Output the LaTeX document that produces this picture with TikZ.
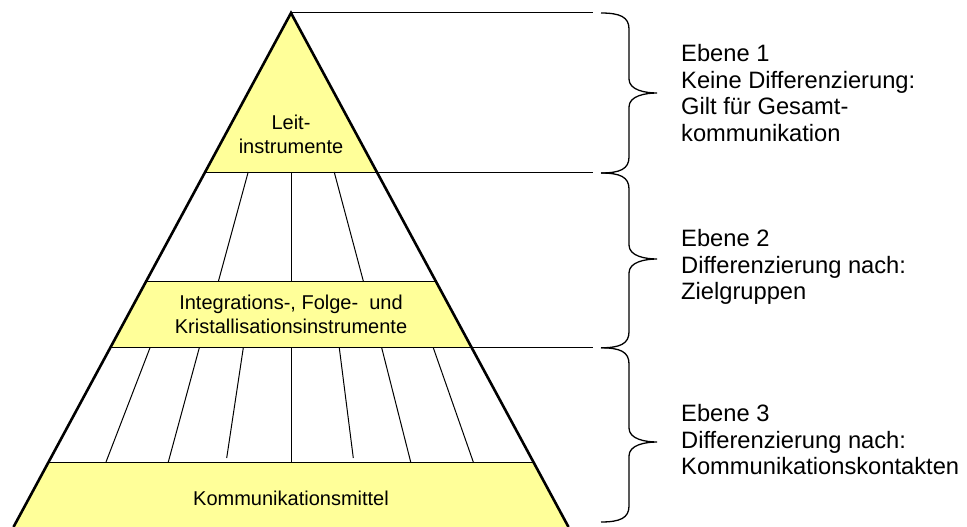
\documentclass[tikz,border=0pt]{standalone}
\usepackage{fontspec}
\setmainfont{Liberation Sans}
\definecolor{pyrfill}{HTML}{FFFF99}
\tikzset{
  outline/.style={line width=2.6pt, line join=miter, line cap=butt},
  thin/.style={line width=1pt},
  bracepath/.style={line width=1.3pt},
  pyrtext/.style={inner sep=0pt, align=center, font=\fontsize{20}{24}\selectfont, anchor=base},
  sidetext/.style={inner sep=0pt, align=left, font=\fontsize{23.7}{26.6}\selectfont, anchor=base west},
}
\begin{document}
\begin{tikzpicture}[x=1pt,y=-1pt]
\useasboundingbox (0,0) rectangle (967,527);
% key coordinates of the pyramid (half width = 0.5399*(y-13))
\coordinate (apex) at (291,13);
\coordinate (aL) at (205.2,172);   \coordinate (aR) at (376.8,172);
\coordinate (bL) at (145.9,281.7); \coordinate (bR) at (436.1,281.7);
\coordinate (cL) at (110.5,347.8); \coordinate (cR) at (471.5,347.8);
\coordinate (dL) at (48.6,462);    \coordinate (dR) at (533.4,462);
\coordinate (eL) at (13.5,527);    \coordinate (eR) at (568.5,527);
\coordinate (h0) at (593,13);
\coordinate (h1) at (593,172);
\coordinate (h2) at (593,347.8);
% yellow fills
\fill[pyrfill] (apex) -- (aR) -- (aL) -- cycle;
\fill[pyrfill] (bL) -- (bR) -- (cR) -- (cL) -- cycle;
\fill[pyrfill] (dL) -- (dR) -- (eR) -- (eL) -- cycle;
% horizontal lines
\draw[thin] (apex) -- (h0);
\draw[thin] (aL) -- (h1);
\draw[thin] (bL) -- (bR);
\draw[thin] (cL) -- (h2);
\draw[thin] (dL) -- (dR);
% dividers level 2
\foreach \xt/\xb in {248.2/218.3, 291/291, 334.2/363.5}
  \draw[thin] (\xt,172) -- (\xb,281.7);
% dividers level 3
\foreach \xt/\xb/\yb in {150/106/462, 199.3/168.3/462, 243.3/226.7/458, 291/291/462,
                          339.3/353.3/458, 381.7/410.7/462, 433.3/473.3/462}
  \draw[thin] (\xt,347.8) -- (\xb,\yb);
% outline
\draw[outline] (eL) -- (apex) -- (eR);
% texts in the pyramid (base = baseline of last line)
\node[pyrtext] (leit) at (291,153) {Leit-\\instrumente};
\node[pyrtext] (integ) at (291,333.5) {Integrations-, Folge-\ \ und\\Kristallisationsinstrumente};
\node[pyrtext] (komm) at (291,505) {Kommunikationsmittel};
% braces
\foreach \t/\m/\b in {13/93/173, 173/259/347.8, 347.8/442/522}{
  \draw[bracepath] (601,\t) .. controls (620,\t) and (629,\t+4) .. (629,\t+16)
    -- (629,\m-14) .. controls (629,\m-3) and (645,\m) .. (657,\m)
    .. controls (645,\m) and (629,\m+3) .. (629,\m+14)
    -- (629,\b-16) .. controls (629,\b-4) and (620,\b) .. (601,\b);
}
% side texts (base = baseline of last line)
\node[sidetext] (e1) at (681,141.5) {Ebene 1\\Keine Differenzierung:\\Gilt für Gesamt-\\kommunikation};
\node[sidetext] (e2) at (681,299.9) {Ebene 2\\Differenzierung nach:\\Zielgruppen};
\node[sidetext] (e3) at (681,474.9) {Ebene 3\\Differenzierung nach:\\Kommunikationskontakten};
\end{tikzpicture}
\end{document}
